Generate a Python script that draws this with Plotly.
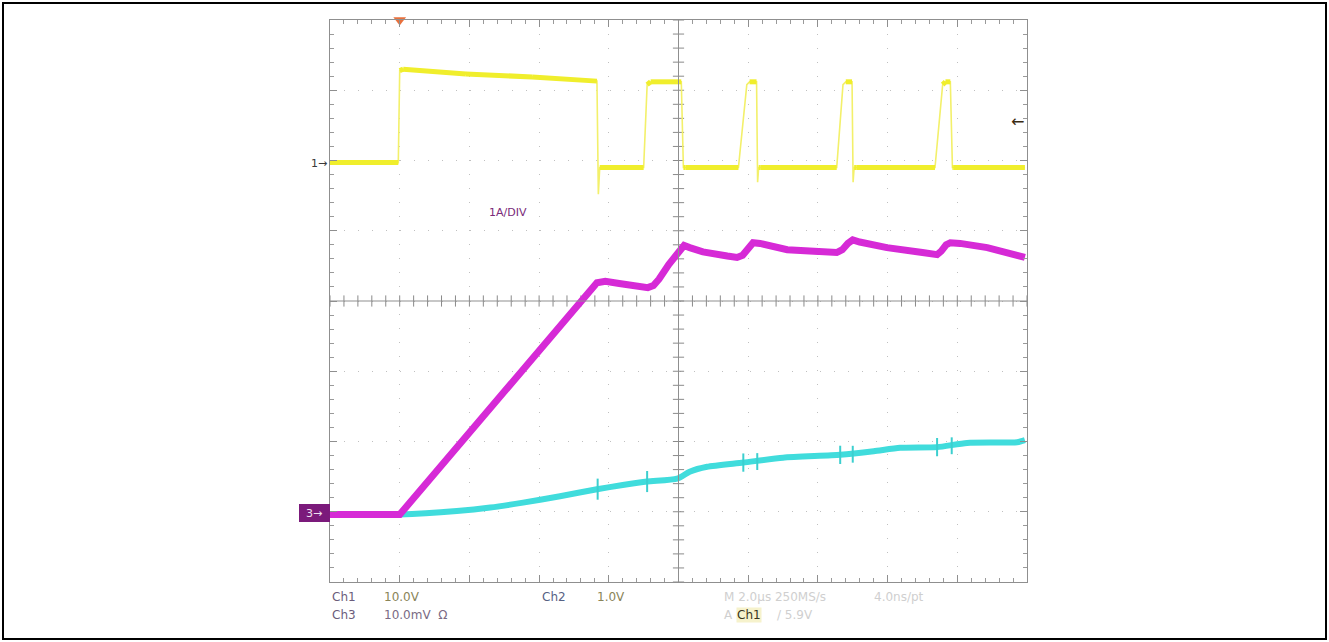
import numpy as np
import plotly.graph_objects as go

# ---- data (screen divisions: x 0..10, y -4..4) ----
ch1_x = [0.00, 0.98, 1.00, 1.05, 1.95, 2.90, 3.83, 3.845, 3.85, 3.87, 4.50, 4.55, 4.60, 5.04, 5.07, 5.10,
         5.86, 5.98, 6.02, 6.12, 6.135, 6.15, 6.18, 7.27, 7.36, 7.40, 7.49, 7.505, 7.52, 7.55,
         8.68, 8.79, 8.83, 8.90, 8.93, 8.95, 9.97]
ch1_y = [1.97, 1.97, 3.28, 3.30, 3.23, 3.19, 3.13, 1.90, 1.52, 1.90, 1.90, 3.08, 3.12, 3.12, 1.90, 1.90,
         1.90, 3.08, 3.12, 3.12, 1.69, 1.90, 1.90, 1.90, 3.08, 3.12, 3.12, 1.69, 1.90, 1.90,
         1.90, 3.08, 3.12, 3.12, 1.90, 1.90, 1.90]

ch3_x = [0.00, 1.00, 3.83, 3.95, 4.15, 4.40, 4.56, 4.64, 4.72, 4.86, 5.02, 5.08, 5.16, 5.35, 5.70, 5.84, 5.92,
         6.00, 6.07, 6.17, 6.56, 7.27, 7.35, 7.43, 7.50, 7.60, 7.99, 8.50, 8.71, 8.77, 8.84, 8.90, 9.04,
         9.43, 9.94, 9.97]
ch3_y = [-3.04, -3.04, 0.26, 0.28, 0.25, 0.21, 0.19, 0.22, 0.31, 0.52, 0.74, 0.79, 0.76, 0.70, 0.64, 0.62, 0.65,
         0.76, 0.83, 0.82, 0.73, 0.69, 0.73, 0.82, 0.87, 0.84, 0.76, 0.69, 0.66, 0.71, 0.80, 0.83, 0.82,
         0.76, 0.63, 0.62]

ch2_x = [0.00, 1.00, 1.82, 2.30, 2.77, 3.30, 3.83, 4.20, 4.55, 4.98, 5.16, 5.41, 5.93, 6.50, 7.32, 7.80,
         8.18, 8.71, 9.14, 9.86, 9.97]
ch2_y = [-3.04, -3.04, -2.99, -2.94, -2.87, -2.78, -2.68, -2.62, -2.57, -2.53, -2.43, -2.36,
         -2.30, -2.23, -2.19, -2.14, -2.09, -2.08, -2.02, -2.01, -1.98]
ch2_spike_x = [3.84, 4.55, 5.93, 6.13, 7.32, 7.50, 8.71, 8.92]
ch2_spike_up = [0.15, 0.15, 0.13, 0.11, 0.13, 0.11, 0.13, 0.11]
ch2_spike_dn = [0.15, 0.15, 0.13, 0.13, 0.13, 0.13, 0.13, 0.13]

labels_bottom = [("Ch1", 330, 597, "#6b5c7b"), ("10.0V", 382, 597, "#8a8458"),
                 ("Ch2", 540, 597, "#566184"), ("1.0V", 595, 597, "#8a8458"),
                 ("Ch3", 330, 615, "#6b5c7b"), ("10.0mV  \u03a9", 382, 615, "#7a6a84")]

# ---- layout geometry ----
W, H = 1329, 642
L, R, T, B = 330, 1027, 20, 582
pw, ph = R - L, B - T


def px2paper(px, py):
    return (px - L) / pw, (B - py) / ph


fig = go.Figure()

# center line ticks (decoration)
tx = np.round(np.arange(0, 10.001, 0.2), 3)
ty = np.round(np.arange(-4, 4.001, 0.2), 3)
fig.add_trace(go.Scatter(x=tx, y=np.zeros_like(tx), mode="markers",
                         marker=dict(symbol="line-ns", size=8, line=dict(width=1, color="#8a8a8a")),
                         hoverinfo="skip", showlegend=False))
fig.add_trace(go.Scatter(x=np.full_like(ty, 5.0), y=ty, mode="markers",
                         marker=dict(symbol="line-ew", size=8, line=dict(width=1, color="#8a8a8a")),
                         hoverinfo="skip", showlegend=False))

# Ch1 yellow: thin full waveform + thick flat levels
fig.add_trace(go.Scatter(x=ch1_x, y=ch1_y, mode="lines", line=dict(color="#f3f06a", width=1.6),
                         hoverinfo="skip", showlegend=False))
thx, thy = [], []
for i in range(len(ch1_x) - 1):
    dx = ch1_x[i + 1] - ch1_x[i]
    dy = abs(ch1_y[i + 1] - ch1_y[i])
    if dx > 0 and dy / dx < 1.0:
        thx += [ch1_x[i], ch1_x[i + 1], None]
        thy += [ch1_y[i], ch1_y[i + 1], None]
fig.add_trace(go.Scatter(x=thx, y=thy, mode="lines", line=dict(color="#f0ee2c", width=5),
                         hoverinfo="skip", showlegend=False))

# Ch2 cyan (curve + thin switching spikes)
fig.add_trace(go.Scatter(x=ch2_x, y=ch2_y, mode="lines",
                         line=dict(color="#40dcdc", width=6, shape="spline", smoothing=0.6),
                         hoverinfo="skip", showlegend=False))
sx, sy = [], []
for xs, up, dn in zip(ch2_spike_x, ch2_spike_up, ch2_spike_dn):
    base = float(np.interp(xs, ch2_x, ch2_y))
    sx += [xs, xs, None]
    sy += [base + up, base - dn, None]
fig.add_trace(go.Scatter(x=sx, y=sy, mode="lines", line=dict(color="#3ccfcf", width=2),
                         hoverinfo="skip", showlegend=False))

# Ch3 magenta
fig.add_trace(go.Scatter(x=ch3_x, y=ch3_y, mode="lines", line=dict(color="#d62ad6", width=7),
                         hoverinfo="skip", showlegend=False))

# trigger position marker
fig.add_trace(go.Scatter(x=[1.0], y=[4.0], mode="markers", cliponaxis=False,
                         marker=dict(symbol="triangle-down", size=11, color="#e8703c"),
                         hoverinfo="skip", showlegend=False))

axis_common = dict(showticklabels=False, zeroline=False, showline=True, linecolor="#8f8f8f",
                   linewidth=1, mirror="ticks", ticks="inside", ticklen=7, tickcolor="#8f8f8f",
                   gridcolor="#c0c0c0", griddash="1px,13px", gridwidth=1, dtick=1,
                   minor=dict(dtick=0.2, ticks="inside", ticklen=4, tickcolor="#9a9a9a", showgrid=False))
fig.update_xaxes(range=[0, 10], tick0=0, **axis_common)
fig.update_yaxes(range=[-4, 4], tick0=-4, **axis_common)

shapes = [
    dict(type="line", xref="x", yref="y", x0=5, x1=5, y0=-4, y1=4, line=dict(color="#8f8f8f", width=1)),
    dict(type="line", xref="x", yref="y", x0=0, x1=10, y0=0, y1=0, line=dict(color="#8f8f8f", width=1)),
]
# outer black frame of the picture
x0, y0 = px2paper(3, 639)
x1, y1 = px2paper(1326, 3)
shapes.append(dict(type="rect", xref="paper", yref="paper", x0=x0, y0=y0, x1=x1, y1=y1,
                   line=dict(color="black", width=2), layer="below"))
# channel 3 marker box
bx0, by0 = px2paper(299, 522)
bx1, by1 = px2paper(330, 504)
shapes.append(dict(type="rect", xref="paper", yref="paper", x0=bx0, y0=by0, x1=bx1, y1=by1,
                   line=dict(width=0), fillcolor="#7b1a7b"))

annotations = []
font = "DejaVu Sans"
for txt, px, py, col in labels_bottom:
    ax_, ay_ = px2paper(px, py)
    annotations.append(dict(text=txt, x=ax_, y=ay_, xref="paper", yref="paper", xanchor="left",
                            yanchor="middle", showarrow=False, font=dict(family=font, size=12, color=col)))

for txt, px, py, col in [("M 2.0\u03bcs 250MS/s", 722, 597, "#cfcfcf"), ("4.0ns/pt", 872, 597, "#cfcfcf"),
                         ("A", 722, 615, "#cfcfcf"), ("/ 5.9V", 775, 615, "#cfcfcf")]:
    ax_, ay_ = px2paper(px, py)
    annotations.append(dict(text=txt, x=ax_, y=ay_, xref="paper", yref="paper", xanchor="left",
                            yanchor="middle", showarrow=False, font=dict(family=font, size=12, color=col)))
ax_, ay_ = px2paper(736, 615)
annotations.append(dict(text="Ch1", x=ax_, y=ay_, xref="paper", yref="paper", xanchor="left",
                        yanchor="middle", showarrow=False, bgcolor="#f6f2cc", borderpad=0,
                        font=dict(family=font, size=12, color="#3a3520")))

ax_, ay_ = px2paper(508, 212)
annotations.append(dict(text="1A/DIV", x=ax_, y=ay_, xref="paper", yref="paper", xanchor="center",
                        yanchor="middle", showarrow=False, font=dict(family=font, size=11, color="#7a2a7a")))
ax_, ay_ = px2paper(329, 163)
annotations.append(dict(text="1\u2192", x=ax_, y=ay_, xref="paper", yref="paper", xanchor="right",
                        yanchor="middle", showarrow=False, font=dict(family=font, size=11, color="#3a3a3a")))
ax_, ay_ = px2paper(314, 513)
annotations.append(dict(text="3\u2192", x=ax_, y=ay_, xref="paper", yref="paper", xanchor="center",
                        yanchor="middle", showarrow=False, font=dict(family=font, size=11, color="#f0e0f0")))
ax_, ay_ = px2paper(1017, 121)
annotations.append(dict(text="\u2190", x=ax_, y=ay_, xref="paper", yref="paper", xanchor="center",
                        yanchor="middle", showarrow=False, font=dict(family=font, size=16, color="#3a2a12")))

fig.update_layout(width=W, height=H, autosize=False,
                  margin=dict(l=L, r=W - R, t=T, b=H - B, pad=0),
                  paper_bgcolor="white", plot_bgcolor="white",
                  shapes=shapes, annotations=annotations, showlegend=False)

fig.write_html("out.html", config={"displayModeBar": False},
               post_script="document.body.style.margin='0px';document.body.style.overflow='hidden';")
